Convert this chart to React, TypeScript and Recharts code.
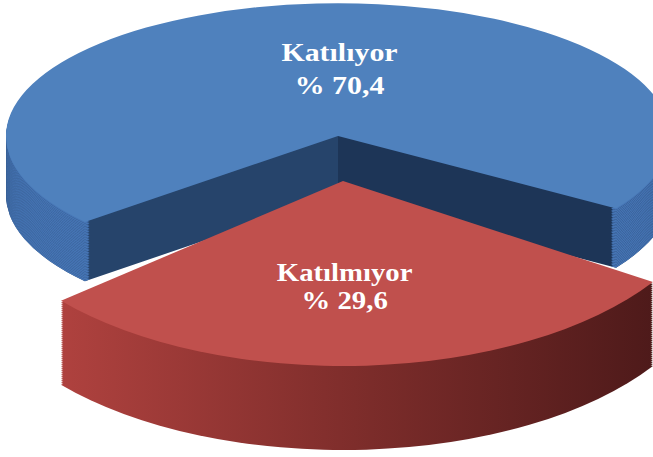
import React from 'react';
import { PieChart, Pie, Cell } from 'recharts';

// ---- data ----
const categories = ['Katılıyor', 'Katılmıyor'];
const values = [70.4, 29.6];
const valueLabels = ['% 70,4', '% 29,6'];

const data = categories.map((name, i) => ({ name, value: values[i] }));

// ---- geometry / style ----
const W = 653;
const H = 457;
const RAD = Math.PI / 180;
const START = -33.1;
const END = START + 360;
const STEP = 4;

// blue (back) slice
const sB = 0.4;
const bCx = 338;
const bCy = 136 / sB;
const bR = 332;
const bDepth = 146;

// red (exploded, front) slice
const sR = 0.5;
const rCx = 343;
const rCy = 181 / sR;
const rR = 370;
const rDepth = 166;

const COLORS = {
  blueTop: '#4f81bd',
  blueWall: '#4675b5',
  navyLeft: '#26446b',
  navyRight: '#1d3557',
  redTop: '#c0504d',
};

const FONT = 'Liberation Serif, DejaVu Serif, serif';

const makeLabel =
  (target: number, s: number, ratio: number, dx: number, y1: number, gap: number, stretch: number, size: number) =>
  (props: any) => {
    const { cx, cy, midAngle, outerRadius, index } = props;
    if (index !== target) return null;
    const r = outerRadius * ratio;
    const x = cx + r * Math.cos(-midAngle * RAD) + dx;
    const y = cy + r * Math.sin(-midAngle * RAD);
    return (
      <g transform={`translate(${x} ${y}) scale(${stretch} ${1 / s})`}>
        <text textAnchor="middle" fill="#ffffff" fontFamily={FONT} fontWeight="bold" fontSize={size}>
          <tspan x={0} y={y1}>
            {categories[target]}
          </tspan>
          <tspan x={0} y={y1 + gap}>
            {valueLabels[target]}
          </tspan>
        </text>
      </g>
    );
  };

const layerList = (depth: number) => {
  const n = Math.round(depth / STEP);
  return Array.from({ length: n }, (_, i) => n - i);
};

const cells = (target: number, fill: string) =>
  data.map((d, i) => <Cell key={d.name} fill={i === target ? fill : 'transparent'} stroke="none" />);

export default function App() {
  const blueLayers = layerList(bDepth);
  const redLayers = layerList(rDepth);
  return (
    <div
      style={{
        position: 'absolute',
        left: 0,
        top: 0,
        width: W,
        height: H,
        overflow: 'hidden',
        background: '#ffffff',
      }}
    >
      <div style={{ position: 'absolute', left: 0, top: 0, transform: `scaleY(${sB})`, transformOrigin: '0 0' }}>
        <PieChart width={W} height={Math.ceil(H / sB)} margin={{ top: 0, right: 0, bottom: 0, left: 0 }}>
          <defs>
            <linearGradient id="navySide" gradientUnits="userSpaceOnUse" x1={0} y1={0} x2={W} y2={0}>
              <stop offset={bCx / W} stopColor={COLORS.navyLeft} />
              <stop offset={bCx / W} stopColor={COLORS.navyRight} />
            </linearGradient>
          </defs>
          {blueLayers.flatMap((k) => [
            <Pie
              key={`bs${k}`}
              data={data}
              dataKey="value"
              cx={bCx}
              cy={bCy + k * STEP}
              outerRadius={bR}
              startAngle={START}
              endAngle={END}
              stroke="none"
              labelLine={false}
              isAnimationActive={false}
            >
              {cells(0, 'url(#navySide)')}
            </Pie>,
            <Pie
              key={`bw${k}`}
              data={data}
              dataKey="value"
              cx={bCx}
              cy={bCy + k * STEP}
              innerRadius={bR - 6}
              outerRadius={bR}
              startAngle={START}
              endAngle={END}
              stroke="none"
              labelLine={false}
              isAnimationActive={false}
            >
              {cells(0, COLORS.blueWall)}
            </Pie>,
          ])}
          <Pie
            key="btop"
            data={data}
            dataKey="value"
            cx={bCx}
            cy={bCy}
            outerRadius={bR}
            startAngle={START}
            endAngle={END}
            stroke="none"
            labelLine={false}
            label={makeLabel(0, sB, 0.5, 12, -9, 33, 1.15, 26)}
            isAnimationActive={false}
          >
            {cells(0, COLORS.blueTop)}
          </Pie>
        </PieChart>
      </div>

      <div style={{ position: 'absolute', left: 0, top: 0, transform: `scaleY(${sR})`, transformOrigin: '0 0' }}>
        <PieChart width={W} height={Math.ceil(H / sR)} margin={{ top: 0, right: 0, bottom: 0, left: 0 }}>
          <defs>
            <linearGradient id="redSide" gradientUnits="userSpaceOnUse" x1={55} y1={0} x2={W} y2={0}>
              <stop offset={0} stopColor="#b0423f" />
              <stop offset={0.5} stopColor="#7e2d2b" />
              <stop offset={1} stopColor="#4e1a1a" />
            </linearGradient>
          </defs>
          {redLayers.map((k) => (
            <Pie
              key={`rs${k}`}
              data={data}
              dataKey="value"
              cx={rCx}
              cy={rCy + k * STEP}
              outerRadius={rR}
              startAngle={START}
              endAngle={END}
              stroke="none"
              labelLine={false}
              isAnimationActive={false}
            >
              {cells(1, 'url(#redSide)')}
            </Pie>
          ))}
          <Pie
            key="rtop"
            data={data}
            dataKey="value"
            cx={rCx}
            cy={rCy}
            outerRadius={rR}
            startAngle={START}
            endAngle={END}
            stroke="none"
            labelLine={false}
            label={makeLabel(1, sR, 0.584, -12, -8, 28, 1.15, 25)}
            isAnimationActive={false}
          >
            {cells(1, COLORS.redTop)}
          </Pie>
        </PieChart>
      </div>
    </div>
  );
}
